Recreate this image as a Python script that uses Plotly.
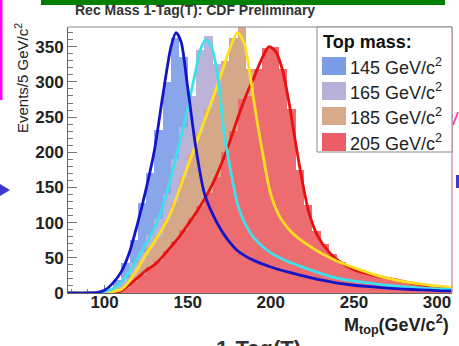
import plotly.graph_objects as go

# ---------------- data ----------------
bin_width = 5
bin_edges_start = 80
n_bins = 46
bin_centers = [bin_edges_start + bin_width * (i + 0.5) for i in range(n_bins)]

mass_labels = ["145 GeV/c<sup>2</sup>", "165 GeV/c<sup>2</sup>", "185 GeV/c<sup>2</sup>", "205 GeV/c<sup>2</sup>"]

h145 = [0, 0, 2, 3, 6, 18, 42, 76, 128, 170, 232, 300, 362, 335, 250, 172, 120, 102, 80, 68, 54, 50, 43, 40, 34,
        33, 27, 26, 21, 20, 16, 15, 14, 11, 11, 9, 9, 7, 7, 6, 5, 5, 4, 4, 3, 3]
h165 = [0, 0, 0, 1, 3, 10, 22, 42, 58, 82, 105, 140, 190, 236, 280, 345, 365, 325, 230, 152, 110, 88, 70, 62, 53,
        48, 42, 36, 33, 30, 25, 22, 20, 17, 16, 14, 13, 11, 10, 9, 8, 7, 7, 6, 5, 5]
h185 = [0, 0, 0, 0, 2, 4, 10, 26, 45, 66, 80, 104, 130, 165, 198, 228, 262, 290, 330, 362, 380, 318, 240, 172, 125,
        100, 88, 76, 70, 60, 54, 47, 42, 38, 34, 30, 26, 23, 20, 18, 15, 14, 12, 11, 9, 8]
h205 = [0, 0, 0, 0, 1, 2, 7, 15, 25, 37, 46, 60, 74, 90, 106, 124, 142, 165, 200, 230, 276, 280, 318, 348, 350,
        318, 262, 175, 125, 88, 70, 55, 44, 36, 32, 28, 25, 22, 19, 17, 15, 13, 11, 10, 8, 7]

fit145_x = [78, 90, 95, 100, 105, 110, 115, 120, 125, 130, 135, 140, 143, 146, 150, 155, 160, 165, 170, 175, 180,
            185, 190, 200, 210, 220, 230, 240, 250, 260, 270, 280, 290, 300, 309]
fit145_y = [0, 0, 0.5, 4, 14, 30, 58, 100, 148, 203, 280, 350, 370, 357, 292, 205, 142, 112, 90, 73, 60,
            52, 46, 37, 30, 24, 18.5, 14, 11, 9, 7, 5.5, 4.5, 3.5, 3]
fit165_x = [78, 95, 100, 105, 110, 115, 120, 125, 130, 135, 140, 145, 150, 155, 158, 161, 164, 168, 172, 175, 180,
            185, 190, 195, 200, 210, 220, 230, 240, 250, 260, 270, 280, 290, 300, 309]
fit165_y = [0, 0, 2, 6, 15, 30, 50, 70, 92, 122, 165, 212, 262, 318, 348, 360, 352, 310, 225, 185, 126,
            96, 78, 66, 57, 45, 36, 28, 21, 17, 14, 11, 9, 7, 6, 5]
fit185_x = [78, 100, 105, 110, 115, 120, 125, 130, 135, 140, 145, 150, 155, 160, 165, 170, 175, 180, 184, 187, 190,
            195, 200, 205, 210, 215, 220, 230, 240, 250, 260, 270, 280, 290, 300, 309]
fit185_y = [0, 0.5, 2, 5, 17, 35, 55, 73, 92, 115, 147, 180, 212, 244, 276, 310, 345, 370, 355, 318, 270,
            200, 140, 110, 93, 81, 72, 57, 45, 36, 28, 21, 16, 13, 10, 8]
fit205_x = [78, 100, 105, 110, 115, 120, 125, 130, 135, 140, 145, 150, 155, 160, 165, 170, 175, 180, 185, 190, 195,
            199, 203, 207, 211, 215, 219, 223, 228, 235, 240, 250, 260, 270, 280, 290, 300, 309]
fit205_y = [0, 0.5, 1.5, 3, 12, 22, 32, 40, 52, 66, 80, 97, 114, 133, 155, 182, 213, 248, 280, 307, 335,
            350, 343, 317, 270, 212, 158, 114, 82, 58, 47, 33, 26, 21, 16, 12, 9, 7]

x_range = [78, 309]
y_range = [0, 378]

# ---------------- styles ----------------
hist_colors = ["#8AA6EA", "#BCB3D9", "#D6A88A", "#EC6C70"]
swatch_colors = ["#7C9CE8", "#B6B2DA", "#D8AA8C", "#EC5E66"]
line_colors = ["#1414C8", "#3EE0EE", "#FFE020", "#E81010"]

W, H = 459, 346
L, R, T, B = 68, 452, 27, 293


def px(xp):
    return (xp - L) / (R - L)


def py(yp):
    return (B - yp) / (B - T)


fig = go.Figure()

for h, c in zip([h145, h165, h185, h205], hist_colors):
    fig.add_trace(go.Bar(x=bin_centers, y=h, width=bin_width, marker=dict(color=c, line=dict(width=0)),
                         hoverinfo="skip", showlegend=False))

fits = list(zip([fit145_x, fit165_x, fit185_x, fit205_x], [fit145_y, fit165_y, fit185_y, fit205_y], line_colors))
for fx, fy, c in reversed(fits):
    fig.add_trace(go.Scatter(x=fx, y=fy, mode="lines", line=dict(color=c, width=2.8, shape="spline", smoothing=0.8),
                             hoverinfo="skip", showlegend=False, cliponaxis=True))

font_main = "Liberation Sans, Arial, sans-serif"

shapes = []
# frame top and right
shapes.append(dict(type="line", xref="paper", yref="paper", x0=0, x1=1, y0=1, y1=1, line=dict(color="#8a8a8a", width=1)))
shapes.append(dict(type="line", xref="paper", yref="paper", x0=1, x1=1, y0=0, y1=1, line=dict(color="#d49a9a", width=1.5)))
# legend box
shapes.append(dict(type="rect", xref="paper", yref="paper", x0=px(317), x1=px(452), y0=py(152), y1=py(27),
                   fillcolor="white", line=dict(color="#8a8a8a", width=1)))
sw_tops = [57, 82, 107, 133]
for t, c in zip(sw_tops, swatch_colors):
    shapes.append(dict(type="rect", xref="paper", yref="paper", x0=px(322), x1=px(346), y0=py(t + 18), y1=py(t),
                       fillcolor=c, line=dict(width=0)))
# decorations from the slide
shapes.append(dict(type="rect", xref="paper", yref="paper", x0=px(41), x1=px(445), y0=py(5), y1=py(-2),
                   fillcolor="#008000", line=dict(width=0)))
shapes.append(dict(type="rect", xref="paper", yref="paper", x0=px(-1), x1=px(2.5), y0=py(100), y1=py(-2),
                   fillcolor="#FF00FF", line=dict(width=0)))
shapes.append(dict(type="path", xref="paper", yref="paper",
                   path=f"M {px(0)} {py(184)} L {px(10)} {py(190)} L {px(0)} {py(196)} Z",
                   fillcolor="#3A3AD0", line=dict(width=0)))
shapes.append(dict(type="line", xref="paper", yref="paper", x0=px(453), x1=px(458), y0=py(125), y1=py(112),
                   line=dict(color="#FF40C0", width=2)))
shapes.append(dict(type="line", xref="paper", yref="paper", x0=px(457.5), x1=px(457.5), y0=py(188), y1=py(175),
                   line=dict(color="#3A3AD0", width=3)))

annotations = []
annotations.append(dict(text="<b>Rec Mass 1-Tag(T): CDF Preliminary</b>", xref="paper", yref="paper",
                        x=px(73), y=py(10), xanchor="left", yanchor="middle", showarrow=False,
                        font=dict(family=font_main, size=14, color="#333333")))
annotations.append(dict(text="Events/5 GeV/c<sup>2</sup>", xref="paper", yref="paper", textangle=-90,
                        x=px(21), y=py(78), xanchor="center", yanchor="middle", showarrow=False,
                        font=dict(family=font_main, size=15, color="#222222")))
annotations.append(dict(text="<b>M<sub>top</sub>(GeV/c<sup>2</sup>)</b>", xref="paper", yref="paper",
                        x=px(451), y=py(324), xanchor="right", yanchor="middle", showarrow=False,
                        font=dict(family=font_main, size=18, color="#222222")))
annotations.append(dict(text="<b>1-Tag(T)</b>", xref="paper", yref="paper",
                        x=px(258), y=py(334), xanchor="center", yanchor="top", showarrow=False,
                        font=dict(family=font_main, size=22, color="#333333")))
annotations.append(dict(text="<b>Top mass:</b>", xref="paper", yref="paper",
                        x=px(321), y=py(42), xanchor="left", yanchor="middle", showarrow=False,
                        font=dict(family=font_main, size=18, color="#111111")))
for t, lab in zip(sw_tops, mass_labels):
    annotations.append(dict(text=lab, xref="paper", yref="paper",
                            x=px(348), y=py(t + 9), xanchor="left", yanchor="middle", showarrow=False,
                            font=dict(family=font_main, size=18, color="#222222")))

fig.update_layout(
    width=W, height=H,
    margin=dict(l=L, r=W - R, t=T, b=H - B, pad=0),
    paper_bgcolor="white", plot_bgcolor="white",
    barmode="overlay", bargap=0,
    showlegend=False,
    shapes=shapes, annotations=annotations,
    xaxis=dict(range=x_range, tickvals=[100, 150, 200, 250, 300], ticks="inside", ticklen=8, tickcolor="#777",
               minor=dict(dtick=10, ticks="inside", ticklen=4, tickcolor="#777"),
               showgrid=False, zeroline=False, showline=True, linecolor="#666", linewidth=1,
               layer="below traces", ticklabelstandoff=-6,
               tickfont=dict(family=font_main, size=17, color="#222222", weight="bold")),
    yaxis=dict(range=y_range, tickvals=[0, 50, 100, 150, 200, 250, 300, 350], ticks="inside", ticklen=9,
               tickcolor="#777",
               minor=dict(dtick=10, ticks="inside", ticklen=5, tickcolor="#777"),
               showgrid=False, zeroline=False, showline=True, linecolor="#666", linewidth=1,
               tickfont=dict(family=font_main, size=17, color="#222222", weight="bold")),
)

fig.write_html("out.html")
